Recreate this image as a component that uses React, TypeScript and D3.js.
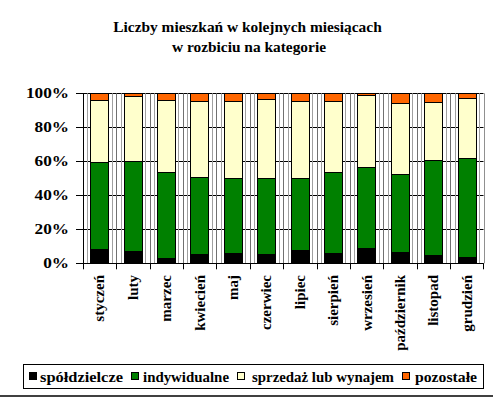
import React from "react";
import * as d3 from "d3";

const months = ["styczeń", "luty", "marzec", "kwiecień", "maj", "czerwiec", "lipiec", "sierpień", "wrzesień", "październik", "listopad", "grudzień"];
const spoldzielcze = [8.4, 7.2, 3.1, 5.5, 6.1, 5.5, 7.8, 6.1, 9.0, 6.7, 4.9, 3.7];
const indywidualne = [51.4, 53.2, 50.6, 45.5, 44.1, 44.7, 42.4, 47.6, 47.9, 46.0, 56.1, 58.4];
const sprzedaz = [36.4, 38.2, 42.5, 44.6, 45.4, 46.6, 45.4, 41.9, 42.0, 41.8, 34.1, 35.3];
const pozostale = [3.8, 1.4, 3.8, 4.4, 4.4, 3.2, 4.4, 4.4, 1.1, 5.5, 4.9, 2.6];
const seriesNames = ["spółdzielcze", "indywidualne", "sprzedaż lub wynajem", "pozostałe"];
const seriesColors = ["#000000", "#008000", "#FFFFCC", "#FF6600"];
const yTicks = [0, 0.2, 0.4, 0.6, 0.8, 1];
const titleLines = ["Liczby mieszkań w kolejnych miesiącach", "w rozbiciu na kategorie"];

const W = 493, H = 398;
const X0 = 82.7, X1 = 483.5, Y0 = 263.3, Y1 = 93.3;
const FONT = "'Liberation Serif', 'Times New Roman', serif";

export default function App() {
  const keys = ["a", "b", "c", "d"];
  const rows = months.map((m, i) => {
    const tot = spoldzielcze[i] + indywidualne[i] + sprzedaz[i] + pozostale[i];
    return { m, a: spoldzielcze[i] / tot, b: indywidualne[i] / tot, c: sprzedaz[i] / tot, d: pozostale[i] / tot };
  });
  const stack = d3.stack<any>().keys(keys)(rows);
  const x = d3.scaleBand<string>().domain(months).range([X0, X1]).paddingInner(0.45).paddingOuter(0.225);
  const y = d3.scaleLinear().domain([0, 1]).range([Y0, Y1]);
  const step = x.step();
  const bw = x.bandwidth();
  const catEdges = d3.range(months.length + 1).map((i) => X0 + i * step);

  const legendItems = [
    { sx: 29, tx: 40, tl: 83 },
    { sx: 131, tx: 143, tl: 86 },
    { sx: 237, tx: 252, tl: 142 },
    { sx: 402, tx: 415, tl: 62 },
  ];

  return (
    <svg width={W} height={H} style={{ position: "absolute", left: 0, top: 0, background: "#fff" }} fontFamily={FONT}>
      <rect x={0} y={0} width={W} height={H} fill="#fff" />
      {titleLines.map((t, i) => (
        <text key={t} transform={`translate(${i === 0 ? 247.5 : 249},${32 + i * 20}) scale(1.1,1)`} textAnchor="middle" fontWeight="bold" fontSize={14}>{t}</text>
      ))}
      {/* horizontal gridlines */}
      {yTicks.map((t) => (
        <g key={t}>
          <line x1={76} x2={X1} y1={Math.round(y(t)) + 0.5} y2={Math.round(y(t)) + 0.5} stroke="#000" strokeWidth={1} />
          <text transform={`translate(69,${y(t) + 5}) scale(1.15,1)`} textAnchor="end" fontWeight="bold" fontSize={15}>{Math.round(t * 100)}%</text>
        </g>
      ))}
      {/* category boundary lines and ticks */}
      {catEdges.map((cx, i) => (
        <g key={i}>
          {i > 0 && i < months.length && (
            <line x1={Math.round(cx) + 0.5} x2={Math.round(cx) + 0.5} y1={Y1} y2={Y0} stroke="#707070" strokeWidth={1} />
          )}
          <line x1={Math.round(cx) + 0.5} x2={Math.round(cx) + 0.5} y1={Y0} y2={Y0 + 6} stroke="#000" strokeWidth={1} />
        </g>
      ))}
      {/* gray lines beside bars */}
      {months.map((m) => {
        const bx = x(m)!;
        return (
          <g key={m}>
            <line x1={Math.round(bx - 3) + 0.5} x2={Math.round(bx - 3) + 0.5} y1={Y1} y2={Y0} stroke="#a0a0a0" strokeWidth={1} />
            <line x1={Math.round(bx + bw + 3) + 0.5} x2={Math.round(bx + bw + 3) + 0.5} y1={Y1} y2={Y0} stroke="#a0a0a0" strokeWidth={1} />
          </g>
        );
      })}
      {/* bars */}
      {stack.map((s, si) => (
        <g key={si}>
          {s.map((d, i) => {
            const bx = x(months[i])!;
            const yt = y(d[1]);
            const yb = y(d[0]);
            return (
              <rect key={i} x={Math.round(bx) + 0.5} y={Math.round(yt) + 0.5} width={Math.round(bw)} height={Math.max(0, Math.round(yb) - Math.round(yt))}
                fill={seriesColors[si]} stroke="#000" strokeWidth={1} />
            );
          })}
        </g>
      ))}
      {/* axes */}
      <line x1={Math.round(X0) + 0.5} x2={Math.round(X0) + 0.5} y1={Y1} y2={Y0} stroke="#000" strokeWidth={1} />
      <line x1={Math.round(X1) + 0.5} x2={Math.round(X1) + 0.5} y1={Y1} y2={Y0} stroke="#909090" strokeWidth={1} />
      <line x1={X0} x2={X1} y1={Math.round(Y0) + 0.5} y2={Math.round(Y0) + 0.5} stroke="#000" strokeWidth={1} />
      {/* x labels */}
      {months.map((m) => {
        const cx = x(m)! + bw / 2;
        return (
          <text key={m} transform={`translate(${cx + 5},275) rotate(-90)`} textAnchor="end" fontWeight="bold" fontSize={15}>{m}</text>
        );
      })}
      {/* legend */}
      <rect x={23.5} y={364.5} width={460} height={24} fill="#fff" stroke="#000" strokeWidth={1} />
      {seriesNames.map((n, i) => (
        <g key={n}>
          <rect x={legendItems[i].sx + 0.5} y={372.5} width={7} height={7} fill={seriesColors[i]} stroke="#000" strokeWidth={1} />
          <text x={legendItems[i].tx} y={381.5} fontWeight="bold" fontSize={15} textLength={legendItems[i].tl} lengthAdjust="spacingAndGlyphs">{n}</text>
        </g>
      ))}
      <line x1={0} x2={W} y1={396} y2={396} stroke="#000" strokeWidth={1.5} />
    </svg>
  );
}
